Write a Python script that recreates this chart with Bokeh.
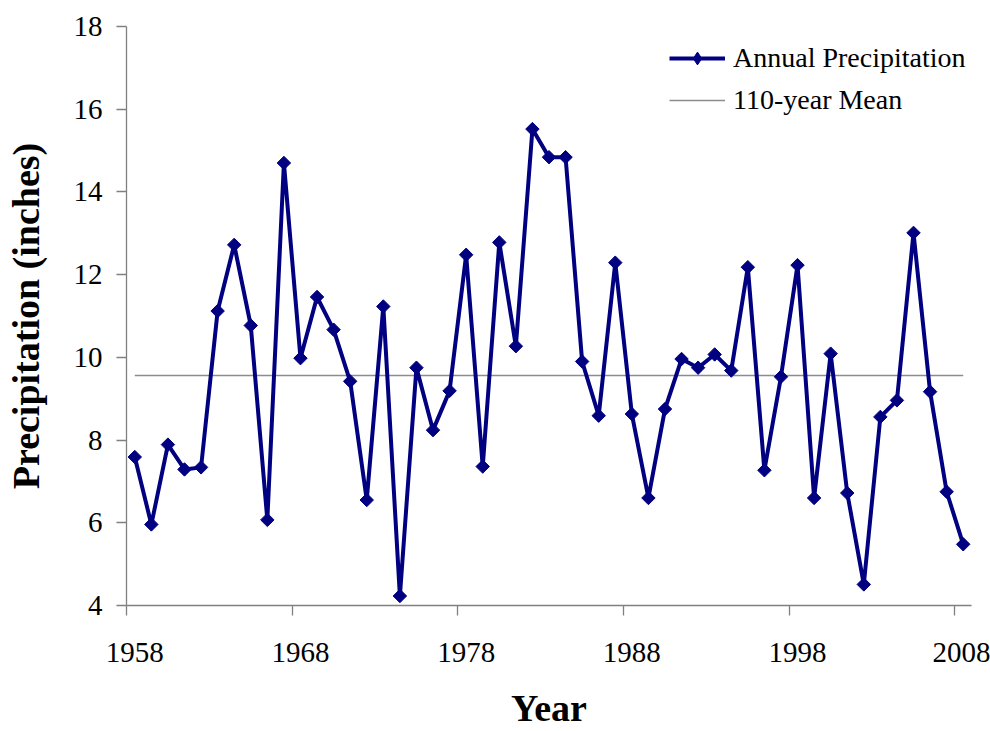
from math import pi
from bokeh.plotting import figure
from bokeh.models import Range1d, FixedTicker, Legend, LegendItem
from bokeh.embed import file_html
from bokeh.resources import INLINE

# ---- data ----
years = list(range(1958, 2009))
precip = [7.59, 5.96, 7.89, 7.29, 7.34, 11.12, 12.72, 10.77, 6.07, 14.70,
          9.98, 11.46, 10.67, 9.42, 6.55, 11.23, 4.23, 9.75, 8.24, 9.19,
          12.48, 7.36, 12.78, 10.27, 15.52, 14.84, 14.84, 9.90, 8.59, 12.29,
          8.63, 6.60, 8.75, 9.96, 9.75, 10.07, 9.68, 12.18, 7.27, 9.53,
          12.23, 6.60, 10.09, 6.72, 4.51, 8.56, 8.96, 13.01, 9.17, 6.75, 5.48]
mean_110 = 9.56
x_tick_years = [1958, 1968, 1978, 1988, 1998, 2008]
x_tick_labels = ["1958", "1968", "1978", "1988", "1998", "2008"]
y_ticks = [4, 6, 8, 10, 12, 14, 16, 18]
series_label = "Annual Precipitation"
mean_label = "110-year Mean"

FONT = "Liberation Serif"
NAVY = "#000080"
AXIS_GRAY = "#808080"

# category centres (Excel category axis: points sit in the middle of each year slot)
xc = [y + 0.5 for y in years]
label_pos = [y + 0.5 for y in x_tick_years]

p = figure(width=990, height=731, output_backend="svg", toolbar_location=None,
           x_range=Range1d(years[0], years[-1] + 1), y_range=Range1d(y_ticks[0], y_ticks[-1]),
           min_border_left=126, min_border_right=19, min_border_top=26, min_border_bottom=126)
p.outline_line_color = None
p.xgrid.visible = False
p.ygrid.visible = False
p.background_fill_color = "white"
p.border_fill_color = "white"

# mean line
mean_r = p.line([xc[0], xc[-1]], [mean_110, mean_110], line_color="#8c8c8c", line_width=1.6)
# series
line_r = p.line(xc, precip, line_color=NAVY, line_width=4)
# diamond used for the legend key (hidden under the plotted markers)
key_r = p.scatter(xc, precip, marker="diamond", size=10, fill_color=NAVY, line_color=NAVY)
pts_r = p.scatter(xc, precip, marker="square", size=9.5, angle=pi / 4,
                  fill_color=NAVY, line_color=NAVY)

# y axis
ya = p.yaxis[0]
ya.ticker = FixedTicker(ticks=y_ticks)
ya.minor_tick_line_color = None
ya.major_tick_in = 0
ya.major_tick_out = 10
ya.major_tick_line_color = AXIS_GRAY
ya.major_tick_line_width = 1.3
ya.axis_line_color = AXIS_GRAY
ya.axis_line_width = 1.3
ya.major_label_text_font = FONT
ya.major_label_text_font_size = "29px"
ya.major_label_text_color = "black"
ya.major_label_standoff = 14
ya.axis_label = "Precipitation (inches)"
ya.axis_label_text_font = FONT
ya.axis_label_text_font_size = "38px"
ya.axis_label_text_font_style = "bold"
ya.axis_label_text_color = "black"
ya.axis_label_standoff = 24

# x axis: labels centred on categories (major), tick marks at category boundaries (minor)
xa = p.xaxis[0]
xa.ticker = FixedTicker(ticks=label_pos, minor_ticks=x_tick_years)
xa.major_label_overrides = {pos: s for pos, s in zip(label_pos, x_tick_labels)}
xa.major_tick_line_color = None
xa.major_tick_in = 0
xa.major_tick_out = 0
xa.minor_tick_in = 0
xa.minor_tick_out = 10
xa.minor_tick_line_color = AXIS_GRAY
xa.minor_tick_line_width = 1.3
xa.axis_line_color = AXIS_GRAY
xa.axis_line_width = 1.3
xa.major_label_text_font = FONT
xa.major_label_text_font_size = "29px"
xa.major_label_text_color = "black"
xa.major_label_standoff = 27
xa.axis_label = "Year"
xa.axis_label_text_font = FONT
xa.axis_label_text_font_size = "38px"
xa.axis_label_text_font_style = "bold"
xa.axis_label_text_color = "black"
xa.axis_label_standoff = 22

legend = Legend(items=[LegendItem(label=series_label, renderers=[line_r, key_r]),
                       LegendItem(label=mean_label, renderers=[mean_r])],
                location=(543, 484))
legend.padding = 0
legend.spacing = 0
legend.margin = 0
legend.glyph_width = 56
legend.glyph_height = 32
legend.label_height = 42
legend.label_standoff = 8
legend.label_text_font = FONT
legend.label_text_font_size = "28px"
legend.label_text_color = "black"
legend.background_fill_alpha = 0
legend.border_line_alpha = 0
p.add_layout(legend, "center")

open("out.html", "w").write(file_html(p, INLINE))
